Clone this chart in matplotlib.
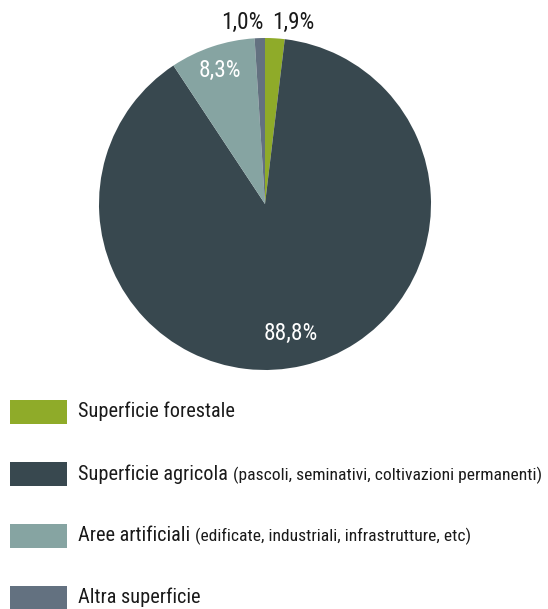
'''Ripartizione della superficie: torta con legenda'''
import matplotlib
matplotlib.use('Agg')
import matplotlib.pyplot as plt
from matplotlib import font_manager
from matplotlib.patches import Rectangle
import numpy as np

categorie = ['Superficie forestale', 'Superficie agricola', 'Aree artificiali', 'Altra superficie']
dettagli = ['', '(pascoli, seminativi, coltivazioni permanenti)',
            '(edificate, industriali, infrastrutture, etc)', '']
percentuali = [1.9, 88.8, 8.3, 1.0]
colori = ['#8fab29', '#38484f', '#86a4a2', '#637180']

# cerca un carattere stretto (tipo Frutiger Condensed)
nomi = {(f.name, f.stretch) for f in font_manager.fontManager.ttflist}
STRETCH = 'normal'
FAM = 'DejaVu Sans'
for cand in ['Liberation Sans Narrow', 'Roboto Condensed', 'Open Sans Condensed']:
    if any(n == cand for n, s in nomi):
        FAM = cand
        break
else:
    if any(n == 'DejaVu Sans' and s in ('condensed', 'semi-condensed') for n, s in nomi):
        STRETCH = 'condensed'
plt.rcParams['font.family'] = [FAM, 'DejaVu Sans']
plt.rcParams['font.stretch'] = STRETCH

W, H = 548, 609
fig = plt.figure(figsize=(W / 100, H / 100), dpi=100)
renderer = fig.canvas.get_renderer()


def misura(testo, size):
    '''dimensione del font per cui il testo e' largo size pixel'''
    t = fig.text(0, 0, testo, fontsize=13)
    w = t.get_window_extent(renderer).width
    t.remove()
    return 13 * size / w


FS = misura(categorie[1], 149)
FS_PICCOLO = misura(dettagli[1], 306)
FS_PCT = misura('1,0%', 42)

# torta: centro (265, 204) px, raggio 166 px
cx, cy, r = 265, 204, 166
ax = fig.add_axes([(cx - r) / W, 1 - (cy + r) / H, 2 * r / W, 2 * r / H])
wedges, _ = ax.pie(percentuali, colors=colori, startangle=90, counterclock=False,
                   radius=1, wedgeprops={'linewidth': 0})
ax.set_aspect('equal')
ax.set_xlim(-1, 1)
ax.set_ylim(-1, 1)


def etichetta(p):
    return f'{p:.1f}%'.replace('.', ',')


for w, p in zip(wedges, percentuali):
    mid = np.deg2rad((w.theta1 + w.theta2) / 2)
    if p > 50:
        ax.text(0.8 * np.cos(mid) - 0.03, 0.8 * np.sin(mid), etichetta(p), color='white',
                fontsize=FS_PCT, ha='center', va='center')
    elif p > 5:
        ax.text(0.85 * np.cos(mid), 0.85 * np.sin(mid), etichetta(p), color='white',
                fontsize=FS_PCT, ha='center', va='center')
    else:
        x = 0.172 if np.cos(mid) > 0.05 else -0.136
        ax.text(x, 1.096, etichetta(p), color='#1a1a1a', fontsize=FS_PCT,
                ha='center', va='center', clip_on=False)

# legenda manuale
y_centri = [411.5, 474, 535.5, 597.5]
for nome, dett, col, yc in zip(categorie, dettagli, colori, y_centri):
    fig.patches.append(Rectangle((10 / W, 1 - (yc + 12) / H), 57 / W, 24 / H,
                                 transform=fig.transFigure, color=col, lw=0))
    t = fig.text(78 / W, 1 - yc / H, nome, fontsize=FS, va='center', color='#1a1a1a')
    if dett:
        bb = t.get_window_extent(renderer)
        fig.text((bb.x1 + 5) / W, 1 - (yc + 1) / H, dett, fontsize=FS_PICCOLO,
                 va='center', color='#1a1a1a')

fig.savefig('out.png', dpi=100)
